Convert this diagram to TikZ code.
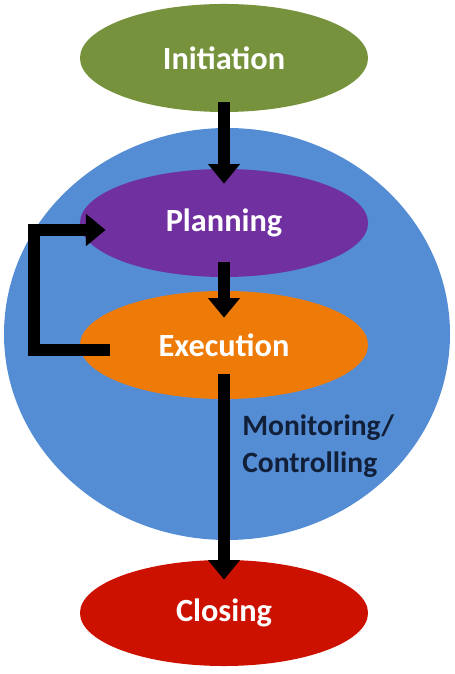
\documentclass[tikz,border=0pt]{standalone}
\usepackage{fontspec}
\setmainfont{Carlito}
\usetikzlibrary{calc, positioning, shapes.geometric, arrows.meta}

\definecolor{initgreen}{HTML}{76923C}
\definecolor{planpurple}{HTML}{7030A0}
\definecolor{execorange}{HTML}{EE7A08}
\definecolor{closered}{HTML}{CC1100}
\definecolor{cycleblue}{HTML}{548DD4}
\definecolor{labelnavy}{HTML}{111F38}

\tikzset{
  phase/.style={ellipse, inner sep=0pt, minimum width=7.2cm, minimum height=2.7cm,
    text=white, font=\fontsize{23}{27}\selectfont\bfseries},
  flow/.style={line width=9pt, ->},
}

\begin{document}
\begin{tikzpicture}[x=0.025cm, y=0.025cm, >={Triangle[width=22pt, length=14pt]}]
  \useasboundingbox (0,0) rectangle (454,674);
  \fill [cycleblue] (227,340) ellipse [x radius=223, y radius=206];
  \node (init) at (224,616) [phase, fill=initgreen] {Initiation};
  \node (plan) at (224,451) [phase, fill=planpurple] {Planning};
  \node (exec) at (224,329) [phase, fill=execorange] {Execution};
  \node (close) at (224,61) [phase, fill=closered, minimum height=2.65cm] {Closing};
  \draw [flow] ($(init.south)+(0,10)$) -- ($(plan.north)+(0,-15)$);
  \draw [flow] ($(plan.south)+(0,15)$) -- ($(exec.north)+(0,-27)$);
  \draw [flow] ($(exec.south)+(0,25)$) -- ($(close.north)+(0,-20)$)
    node [pos=0.35, anchor=west, xshift=0.3cm, inner sep=0pt, align=left,
      text=labelnavy, font=\fontsize{21}{26}\selectfont\bfseries]
      (ctrl) {Monitoring/\\Controlling};
  \draw [flow, line join=miter] ($(exec.west)+(30,-5)$) -| (34,444) -- ($(plan.west)+(26,-7)$);
\end{tikzpicture}
\end{document}
